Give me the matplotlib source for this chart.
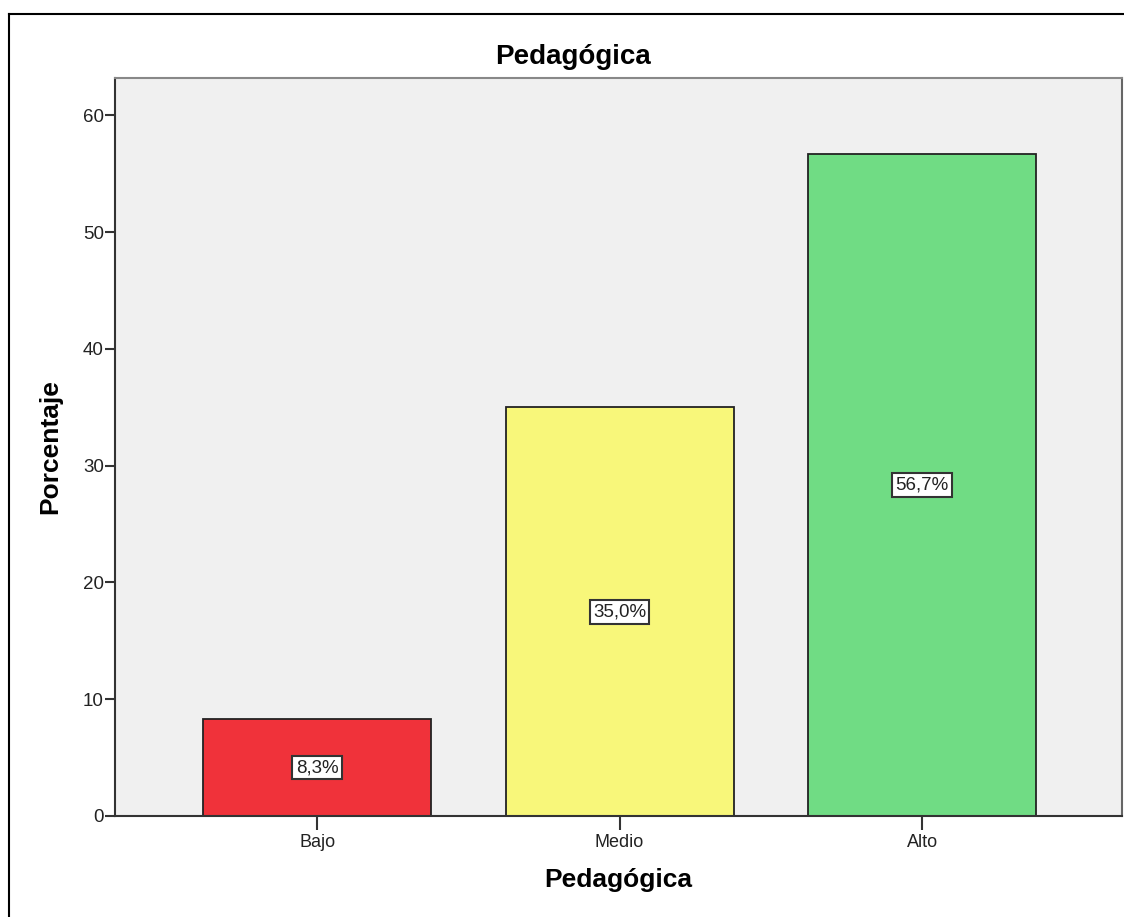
import matplotlib
matplotlib.use('Agg')
import matplotlib.pyplot as plt
from matplotlib.lines import Line2D

plt.rcParams['font.family'] = ['Liberation Sans', 'DejaVu Sans']

categorias = ['Bajo', 'Medio', 'Alto']
porcentajes = [8.3, 35.0, 56.7]
etiquetas = ['8,3%', '35,0%', '56,7%']
colores = ['#f0323a', '#f8f77a', '#70dc84']
yticks = [0, 10, 20, 30, 40, 50, 60]

fig = plt.figure(figsize=(11.24, 9.17), dpi=100)
ax = fig.add_axes([115 / 1124, 1 - 816 / 917, (1122 - 115) / 1124, (816 - 78) / 917])
ax.set_facecolor('#f0f0f0')

x = range(len(categorias))
ax.bar(x, porcentajes, width=0.754, color=colores, edgecolor='#222222', linewidth=1.3, zorder=2)

for i, v in enumerate(porcentajes):
    ax.text(i, v / 2, etiquetas[i], ha='center', va='center', fontsize=13.5, color='#222222', zorder=3,
            bbox=dict(boxstyle='square,pad=0.18', facecolor='white', edgecolor='#333333', linewidth=1.5))

ax.set_xlim(-0.668, 2.661)
ax.set_ylim(0, 63.2)
ax.set_xticks(list(x))
ax.set_xticklabels(categorias, fontsize=13, color='#222222')
ax.set_yticks(yticks)
ax.set_yticklabels([str(t) for t in yticks], fontsize=13.5, color='#222222')
ax.tick_params(axis='y', length=7, width=1.5, color='#333333', pad=1)
ax.tick_params(axis='x', length=10, width=1.5, color='#333333', pad=3)

for s in ax.spines.values():
    s.set_color('#333333')
    s.set_linewidth(1.5)
ax.spines['top'].set_color('#888888')
ax.spines['right'].set_color('#666666')

ax.set_xlabel('Pedagógica', fontsize=19, fontweight='bold', labelpad=12)
ax.set_ylabel('Porcentaje', fontsize=19, fontweight='bold', labelpad=15)
fig.text(573 / 1124, 1 - 57 / 917, 'Pedagógica', ha='center', va='center', fontsize=20, fontweight='bold')

# marco exterior
fig.add_artist(Line2D([9 / 1124, 9 / 1124], [0, 1 - 14 / 917], color='black', linewidth=1.5, transform=fig.transFigure))
fig.add_artist(Line2D([9 / 1124, 1], [1 - 14 / 917, 1 - 14 / 917], color='black', linewidth=1.5, transform=fig.transFigure))

fig.savefig('out.png', dpi=100)
